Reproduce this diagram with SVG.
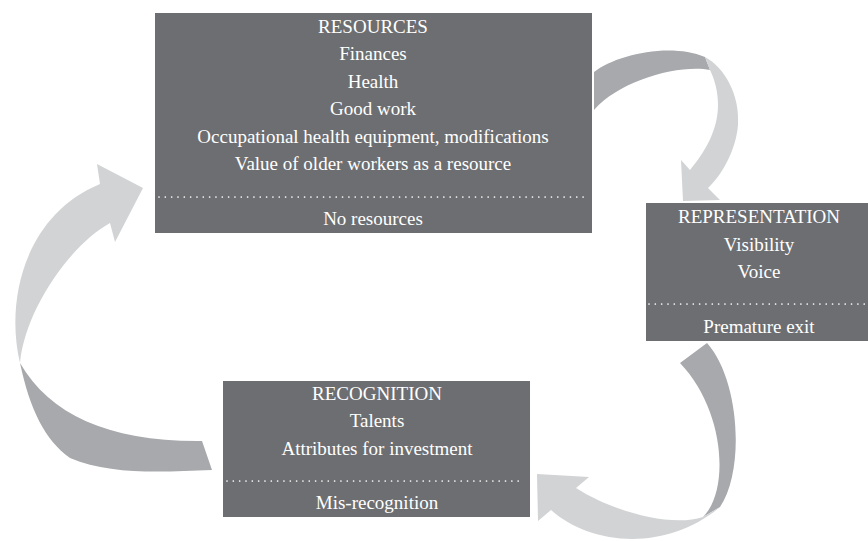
<svg xmlns="http://www.w3.org/2000/svg" width="868" height="541" viewBox="0 0 868 541">
<style>
.box{fill:#6d6e71}
.t{font-family:"Liberation Serif","Times New Roman",serif;font-size:19px;fill:#ffffff;text-anchor:middle}
.dots{stroke:#ffffff;stroke-width:1.7;stroke-linecap:round;stroke-dasharray:0 6.33;fill:none}
.back{fill:#a7a9ac}
.front{fill:#d1d3d4}
</style>
<rect width="868" height="541" fill="#ffffff"/>
<g id="connectors">
  <g id="arrow-resources-representation">
    <path class="back" d="M594,72 C615,55 670,42 705,57 L710,70 C680,64 620,80 594,110 Z"/>
    <path class="front" d="M705,57 C725,68 740,95 738,125 C736,150 722,175 708,188 L720,200 L683,201 L681,160 L690,170 C705,152 718,130 718,105 C718,90 714,78 710,70 Z"/>
  </g>
  <g id="arrow-representation-recognition">
    <path class="back" d="M707,343 C740,380 745,470 720,507 L703,517 C730,490 725,410 680,363 Z"/>
    <path class="front" d="M703,517 C670,528 610,510 576,488 L589,477 L537,474 L538,521 L551,510 C590,545 665,553 720,507 Z"/>
  </g>
  <g id="arrow-recognition-resources">
    <path class="back" d="M20,363 C30,410 45,440 70,458 C110,475 160,472 212,470 L202,441 C110,442 50,415 20,363 Z"/>
    <path class="front" d="M20,363 C5,300 25,215 100,184 L97,164 L143,188 L115,242 L110,223 C70,245 25,310 20,363 Z"/>
  </g>
</g>
<g id="resources">
  <rect class="box" x="155" y="13" width="437" height="220"/>
  <text class="t" x="373" y="33">RESOURCES</text>
  <text class="t" x="373" y="60">Finances</text>
  <text class="t" x="373" y="88">Health</text>
  <text class="t" x="373" y="115">Good work</text>
  <text class="t" x="373" y="143">Occupational health equipment, modifications</text>
  <text class="t" x="373" y="170">Value of older workers as a resource</text>
  <line class="dots" x1="159" y1="197" x2="589" y2="197"/>
  <text class="t" x="373" y="225">No resources</text>
</g>
<g id="representation">
  <rect class="box" x="646" y="203" width="222" height="138"/>
  <text class="t" x="759" y="223">REPRESENTATION</text>
  <text class="t" x="759" y="251">Visibility</text>
  <text class="t" x="759" y="278">Voice</text>
  <line class="dots" x1="649" y1="304" x2="866" y2="304"/>
  <text class="t" x="759" y="333">Premature exit</text>
</g>
<g id="recognition">
  <rect class="box" x="223" y="381" width="307" height="136"/>
  <text class="t" x="377" y="400">RECOGNITION</text>
  <text class="t" x="377" y="427">Talents</text>
  <text class="t" x="377" y="455">Attributes for investment</text>
  <line class="dots" x1="227" y1="481" x2="523" y2="481"/>
  <text class="t" x="377" y="509">Mis-recognition</text>
</g>
</svg>
